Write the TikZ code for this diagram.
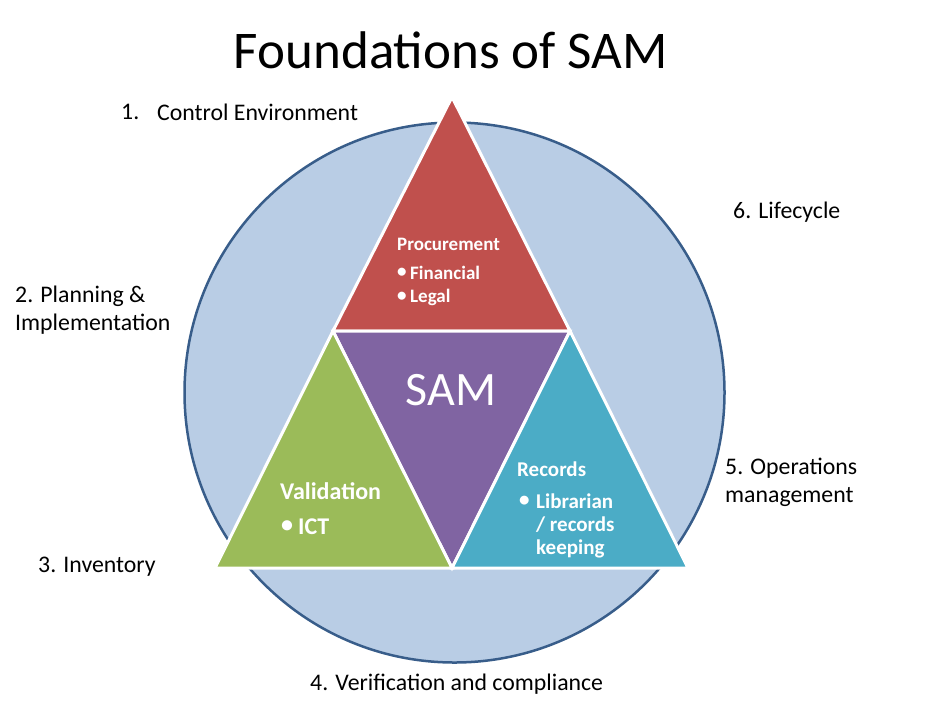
\documentclass[tikz,border=0pt]{standalone}
\usepackage{fontspec}
\setmainfont{Carlito}
\definecolor{cfill}{HTML}{B9CDE5}
\definecolor{cline}{HTML}{385D8A}
\definecolor{cred}{HTML}{C0504D}
\definecolor{cpurple}{HTML}{8064A2}
\definecolor{cgreen}{HTML}{9BBB59}
\definecolor{cteal}{HTML}{4BACC6}
\begin{document}
\begin{tikzpicture}[x=1pt,y=-1pt,
  lbl/.style={anchor=west,inner sep=0pt,font=\fontsize{23.8}{28}\selectfont,text=black},
  wtxt/.style={anchor=west,inner sep=0pt,text=white},
  ptxt/.style={wtxt,font=\bfseries\fontsize{19}{22}\selectfont},
  vtxt/.style={wtxt,font=\bfseries\fontsize{24}{28}\selectfont},
  rtxt/.style={wtxt,font=\bfseries\fontsize{21}{24}\selectfont},
  tri/.style={draw=white,line width=3pt,line join=miter}]
\useasboundingbox (0,0) rectangle (933,705);
% circle
\coordinate (cc) at (454.5,392.5);
\fill[cfill] (cc) circle (270);
\draw[cline,line width=2.5pt] (cc) circle (270);
% triangle vertices
\coordinate (top) at (452,97);
\coordinate (ml) at (333,331);
\coordinate (mr) at (570,331);
\coordinate (bl) at (215,568);
\coordinate (bm) at (452,568);
\coordinate (br) at (688,568);
\filldraw[tri,fill=cred] (top) -- (mr) -- (ml) -- cycle;
\filldraw[tri,fill=cpurple] (ml) -- (mr) -- (bm) -- cycle;
\filldraw[tri,fill=cgreen] (ml) -- (bm) -- (bl) -- cycle;
\filldraw[tri,fill=cteal] (mr) -- (br) -- (bm) -- cycle;
% title
\node[inner sep=0pt,font=\fontsize{53}{60}\selectfont] (title) at (451,50) {Foundations of SAM};
% outer labels
\node[lbl] (l1a) at (121,112) {1.};
\node[lbl] (l1) at (157,112) {Control Environment};
\node[lbl] (l6) at (733,212) {6. Lifecycle};
\node[lbl] (l2a) at (15,296) {2. Planning \&};
\node[lbl] (l2b) at (15,324) {Implementation};
\node[lbl] (l5a) at (725,468) {5. Operations};
\node[lbl] (l5b) at (725,497) {management};
\node[lbl] (l3) at (38,567) {3. Inventory};
\node[lbl] (l4) at (310,684) {4. Verification and compliance};
% SAM
\node[inner sep=0pt,text=white,font=\fontsize{48}{54}\selectfont] (sam) at (451,390) {SAM};
% Procurement
\node[ptxt] (proc) at (397,244) {Procurement};
\node[ptxt] (p1b) at (397,273) {\textbullet};
\node[ptxt] (p1) at (410,273) {Financial};
\node[ptxt] (p2b) at (397,297) {\textbullet};
\node[ptxt] (p2) at (410,297) {Legal};
% Validation
\node[vtxt] (val) at (280,491) {Validation};
\node[vtxt] (v1b) at (281,527) {\textbullet};
\node[vtxt] (v1) at (298,527) {ICT};
% Records
\node[rtxt] (rec) at (517,469) {Records};
\node[rtxt] (r1b) at (519,501) {\textbullet};
\node[rtxt] (r1) at (536,501) {Librarian};
\node[rtxt] (r2) at (536,525) {/ records};
\node[rtxt] (r3) at (536,549) {keeping};
\end{tikzpicture}
\end{document}
